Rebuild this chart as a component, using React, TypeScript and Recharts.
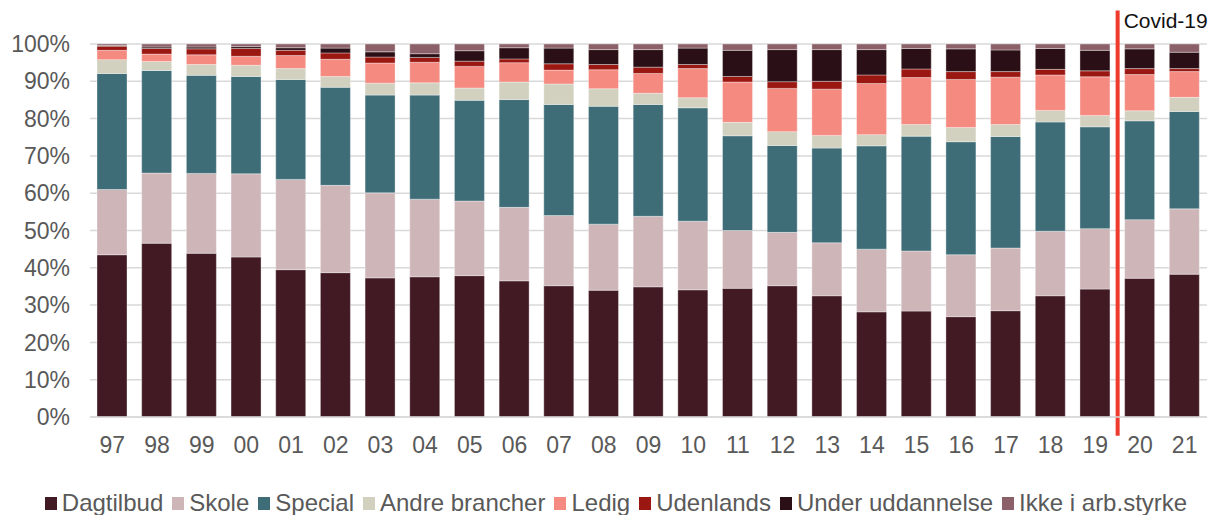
import React from "react";
import { BarChart, Bar, XAxis, YAxis, CartesianGrid, Legend, ReferenceLine } from "recharts";

// share of graduates by main activity, pct
const years = ["97", "98", "99", "00", "01", "02", "03", "04", "05", "06", "07", "08", "09", "10", "11", "12", "13", "14", "15", "16", "17", "18", "19", "20", "21"];
const dagtilbud = [43.5, 46.6, 43.9, 42.9, 39.5, 38.7, 37.3, 37.6, 37.9, 36.5, 35.2, 34.0, 34.9, 34.1, 34.5, 35.2, 32.5, 28.2, 28.4, 26.9, 28.5, 32.5, 34.3, 37.2, 38.3];
const skole = [17.5, 18.8, 21.4, 22.3, 24.2, 23.4, 22.8, 20.8, 20.0, 19.7, 18.8, 17.7, 18.9, 18.4, 15.5, 14.3, 14.2, 16.8, 16.1, 16.6, 16.8, 17.3, 16.2, 15.7, 17.5];
const special = [31.1, 27.5, 26.3, 26.1, 26.8, 26.3, 26.2, 27.9, 27.0, 28.9, 29.8, 31.6, 30.0, 30.4, 25.4, 23.3, 25.4, 27.7, 30.8, 30.3, 29.9, 29.3, 27.3, 26.5, 26.1];
const andre = [3.7, 2.4, 2.9, 3.0, 2.9, 2.9, 3.2, 3.3, 3.3, 4.7, 5.5, 4.7, 3.0, 2.7, 3.6, 3.7, 3.4, 3.0, 3.1, 3.8, 3.2, 3.1, 3.0, 2.7, 3.8];
const ledig = [2.5, 2.0, 2.6, 2.4, 3.5, 4.6, 5.4, 5.5, 5.8, 5.2, 3.7, 5.1, 5.3, 7.8, 10.8, 11.6, 12.4, 13.7, 12.6, 12.9, 12.7, 9.5, 10.4, 9.7, 6.9];
const udenlands = [1.1, 1.5, 1.6, 2.1, 1.4, 1.7, 1.6, 1.3, 1.4, 1.0, 1.7, 1.4, 1.7, 1.1, 1.5, 1.8, 2.1, 2.3, 2.3, 2.1, 1.5, 1.5, 1.6, 1.6, 0.8];
const underUddannelse = [0.2, 0.4, 0.5, 0.5, 0.7, 1.3, 1.4, 1.0, 2.8, 3.0, 4.2, 4.0, 4.7, 4.4, 7.0, 8.6, 8.5, 6.8, 5.5, 6.1, 5.8, 5.6, 5.5, 5.3, 4.4];
const ikkeIArb = [0.4, 0.9, 0.8, 0.8, 1.0, 1.2, 2.1, 2.8, 1.8, 1.0, 1.3, 1.5, 1.5, 1.1, 1.7, 1.5, 1.5, 1.5, 1.2, 1.4, 1.6, 1.2, 1.7, 1.3, 2.2];
const yTicks = [0, 10, 20, 30, 40, 50, 60, 70, 80, 90, 100];

const series = [
  { key: "dagtilbud", name: "Dagtilbud", color: "#421a24", values: dagtilbud },
  { key: "skole", name: "Skole", color: "#cdb5b8", values: skole },
  { key: "special", name: "Special", color: "#3e6d78", values: special },
  { key: "andre", name: "Andre brancher", color: "#d2d1bf", values: andre },
  { key: "ledig", name: "Ledig", color: "#f48a80", values: ledig },
  { key: "udenlands", name: "Udenlands", color: "#9b1711", values: udenlands },
  { key: "under", name: "Under uddannelse", color: "#2a1016", values: underUddannelse },
  { key: "ikke", name: "Ikke i arb.styrke", color: "#8b6068", values: ikkeIArb },
];

const data = years.map((year, i) => {
  const row: Record<string, string | number> = { year };
  series.forEach((s) => (row[s.key] = s.values[i]));
  return row;
});

const FONT = "'Liberation Sans', Arial, sans-serif";

const LegendRow = () => (
  <div style={{ display: "flex", justifyContent: "center", alignItems: "center", height: 30, paddingLeft: 24, fontFamily: FONT, fontSize: 24, color: "#595959", whiteSpace: "nowrap" }}>
    {series.map((s) => (
      <span key={s.key} style={{ display: "inline-flex", alignItems: "center", marginRight: 9 }}>
        <span style={{ display: "inline-block", width: 12, height: 13, background: s.color, marginRight: 5 }} />
        {s.name}
      </span>
    ))}
  </div>
);

const CovidLabel = (props: any) => {
  const vb = props.viewBox || {};
  return (
    <text x={vb.x + 6} y={vb.y + 18} fontSize={21} fontFamily={FONT} fill="#111">
      Covid-19
    </text>
  );
};

export default function App() {
  return (
    <div style={{ width: 1210, height: 515, overflow: "hidden", fontFamily: FONT }}>
      <style>{`body{margin:0}`}</style>
      <BarChart width={1210} height={515} data={data} margin={{ top: 44, right: 3, left: 10, bottom: 18 }} barSize={30}>
        <CartesianGrid vertical={false} stroke="#d9d9d9" strokeWidth={1.5} />
        <XAxis
          dataKey="year"
          height={50}
          tickLine={false}
          tickSize={0}
          tickMargin={20}
          axisLine={{ stroke: "#d9d9d9", strokeWidth: 1.5 }}
          tick={{ fill: "#595959", fontSize: 23, fontFamily: FONT }}
          interval={0}
        />
        <YAxis
          width={80}
          domain={[0, 100]}
          ticks={yTicks}
          allowDataOverflow
          tickFormatter={(v: number) => `${v}%`}
          tickLine={false}
          tickSize={0}
          tickMargin={20}
          axisLine={false}
          tick={{ fill: "#595959", fontSize: 23, fontFamily: FONT }}
        />
        {series.map((s) => (
          <Bar key={s.key} dataKey={s.key} name={s.name} stackId="a" fill={s.color} stroke="#ffffff" strokeOpacity={0.35} strokeWidth={1} isAnimationActive={false} />
        ))}
        <ReferenceLine
          segment={[{ x: "20", y: 109 }, { x: "20", y: -5 }]}
          position="start"
          ifOverflow="visible"
          stroke="#ee3b2e"
          strokeWidth={4}
          label={CovidLabel}
        />
        <Legend verticalAlign="bottom" height={30} content={LegendRow} wrapperStyle={{ top: 488 }} />
      </BarChart>
    </div>
  );
}
